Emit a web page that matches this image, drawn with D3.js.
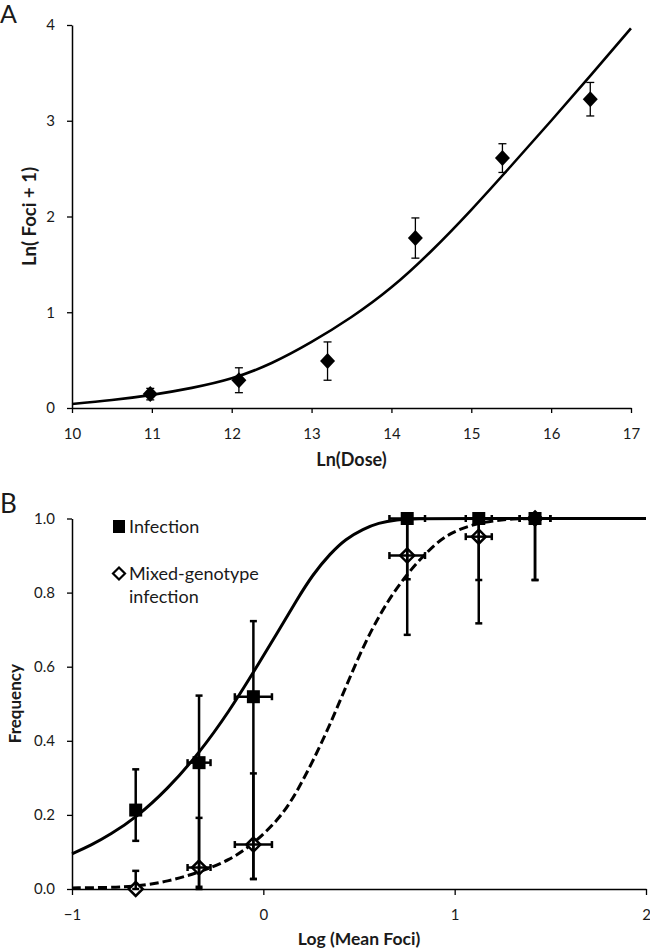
<!DOCTYPE html>
<html>
<head>
<meta charset="utf-8">
<script src="https://cdn.jsdelivr.net/npm/d3@7"></script>
<style>
  html, body { margin: 0; padding: 0; background: #fff; }
  svg { display: block; font-family: Lato, "Open Sans", sans-serif; }
</style>
</head>
<body>
<svg id="chart" width="650" height="952"></svg>
<script>
// ---------- Panel A data ----------
const aDose = [10.98, 12.09, 13.2, 14.3, 15.39, 16.49];
const aFoci = [0.145, 0.29, 0.49, 1.775, 2.61, 3.225];
const aErr = [0.06, 0.13, 0.2, 0.21, 0.15, 0.175];
// fitted curve
const aCurveX = [10, 10.5, 11, 11.5, 12, 12.5, 13, 13.5, 14, 14.5, 15, 15.5, 16, 16.5, 17];
const aCurveY = [0.042, 0.083, 0.137, 0.21, 0.31, 0.47, 0.69, 0.95, 1.26, 1.64, 2.07, 2.53, 3.00, 3.48, 3.965];
const aXTicks = [10, 11, 12, 13, 14, 15, 16, 17];
const aYTicks = [0, 1, 2, 3, 4];

// ---------- Panel B data ----------
const bLogFoci = [-0.667, -0.336, -0.052, 0.752, 1.126, 1.42];
const bXErr = [0, 0.06, 0.097, 0.093, 0.068, 0.08];
const infFreq = [0.213, 0.341, 0.519, 1.0, 1.0, 1.0];
const infLow = [0.13, 0.006, 0.027, 0.836, 0.834, 0.834];
const infHigh = [0.323, 0.522, 0.723, 1.0, 1.0, 1.0];
const mixFreq = [0.0, 0.058, 0.12, 0.90, 0.951, 1.0];
const mixLow = [0.0, 0.0, 0.027, 0.686, 0.717, 0.834];
const mixHigh = [0.049, 0.192, 0.312, 1.0, 1.0, 1.0];
// fitted curves
const infCurveX = [-1, -0.9, -0.8, -0.667, -0.5, -0.336, -0.174, -0.052, 0.078, 0.174, 0.26, 0.349, 0.43, 0.523, 0.6, 0.697, 0.8, 1.0, 2];
const infCurveY = [0.095, 0.118, 0.147, 0.192, 0.27, 0.366, 0.483, 0.585, 0.695, 0.78, 0.85, 0.905, 0.945, 0.972, 0.988, 0.997, 1.0, 1.0, 1.0];
const mixCurveX = [-1, -0.8, -0.665, -0.5, -0.335, -0.174, -0.052, 0.078, 0.175, 0.349, 0.523, 0.697, 0.871, 0.975, 1.128, 1.3, 1.5, 2];
const mixCurveY = [0.003, 0.004, 0.007, 0.02, 0.045, 0.078, 0.122, 0.186, 0.258, 0.438, 0.665, 0.82, 0.92, 0.962, 0.99, 1.0, 1.0, 1.0];
const bXTicks = [-1, 0, 1, 2];
const bYTicks = [0, 0.2, 0.4, 0.6, 0.8, 1.0];

const svg = d3.select("#chart");

function styleAxis(g, isX) {
  g.selectAll("path.domain").attr("stroke", "#000").attr("stroke-width", 1.5);
  g.selectAll(".tick line").attr("stroke", "#000").attr("stroke-width", 1.3);
  g.selectAll(".tick text").attr("font-size", 15).attr("fill", "#1a1a1a")
    .attr("font-family", "Lato, 'Open Sans', sans-serif");
  if (isX) g.selectAll(".tick text").attr("y", 31).attr("dy", 0);
}

// ================= Panel A =================
const ax = d3.scaleLinear().domain([10, 17]).range([72, 631]);
const ay = d3.scaleLinear().domain([0, 4]).range([408, 25]);

const gA = svg.append("g");
gA.append("g").attr("transform", "translate(0,408)")
  .call(d3.axisBottom(ax).tickValues(aXTicks).tickSize(5).tickSizeOuter(0).tickFormat(d3.format("d")))
  .call(g => styleAxis(g, true));
gA.append("g").attr("transform", "translate(72,0)")
  .call(d3.axisLeft(ay).tickValues(aYTicks).tickSize(5).tickSizeOuter(0).tickPadding(12).tickFormat(d3.format("d")))
  .call(g => styleAxis(g, false));

const aCurve = aCurveX.map((x, i) => [x, aCurveY[i]]);
gA.append("path").datum(aCurve)
  .attr("fill", "none").attr("stroke", "#000").attr("stroke-width", 2.6)
  .attr("d", d3.line().x(d => ax(d[0])).y(d => ay(d[1])).curve(d3.curveNatural));

const aPts = aDose.map((x, i) => ({ x, y: aFoci[i], e: aErr[i] }));
const aErrG = gA.append("g").attr("stroke", "#000").attr("stroke-width", 1.3);
aPts.forEach(p => {
  const cx = ax(p.x), yt = ay(p.y + p.e), yb = ay(p.y - p.e);
  aErrG.append("line").attr("x1", cx).attr("x2", cx).attr("y1", yt).attr("y2", yb);
  aErrG.append("line").attr("x1", cx - 4).attr("x2", cx + 4).attr("y1", yt).attr("y2", yt);
  aErrG.append("line").attr("x1", cx - 4).attr("x2", cx + 4).attr("y1", yb).attr("y2", yb);
});
gA.selectAll("path.dia").data(aPts).enter().append("path")
  .attr("class", "dia")
  .attr("d", d => {
    const cx = ax(d.x), cy = ay(d.y);
    return `M${cx},${cy - 8}L${cx + 7.5},${cy}L${cx},${cy + 8}L${cx - 7.5},${cy}Z`;
  })
  .attr("fill", "#000");

gA.append("text").attr("x", 351.5).attr("y", 466).attr("text-anchor", "middle")
  .attr("font-size", 18).attr("font-weight", "bold").attr("fill", "#1a1a1a").text("Ln(Dose)");
gA.append("text").attr("transform", "translate(36,216.5) rotate(-90)").attr("text-anchor", "middle")
  .attr("font-size", 18.5).attr("font-weight", "bold").attr("fill", "#1a1a1a").text("Ln( Foci + 1)");
gA.append("text").attr("x", 0).attr("y", 23).attr("font-size", 25).attr("fill", "#1a1a1a").text("A");

// ================= Panel B =================
const bx = d3.scaleLinear().domain([-1, 2]).range([72, 646]);
const by = d3.scaleLinear().domain([0, 1]).range([889, 518.5]);

const gB = svg.append("g");
gB.append("g").attr("transform", "translate(0,889)")
  .call(d3.axisBottom(bx).tickValues(bXTicks).tickSize(6).tickSizeOuter(0).tickFormat(d3.format("d")))
  .call(g => styleAxis(g, true));
gB.append("g").attr("transform", "translate(72,0)")
  .call(d3.axisLeft(by).tickValues(bYTicks).tickSize(5).tickSizeOuter(0).tickPadding(12).tickFormat(d3.format(".1f")))
  .call(g => styleAxis(g, false));

const bLine = d3.line().x(d => bx(d[0])).y(d => by(d[1])).curve(d3.curveBasis);
gB.append("path").datum(mixCurveX.map((x, i) => [x, mixCurveY[i]]))
  .attr("fill", "none").attr("stroke", "#000").attr("stroke-width", 3)
  .attr("stroke-dasharray", "9,4").attr("d", bLine);
gB.append("path").datum(infCurveX.map((x, i) => [x, infCurveY[i]]))
  .attr("fill", "none").attr("stroke", "#000").attr("stroke-width", 3).attr("d", bLine);

const infPts = bLogFoci.map((x, i) => ({ x, y: infFreq[i], lo: infLow[i], hi: infHigh[i], xe: bXErr[i] }));
const mixPts = bLogFoci.map((x, i) => ({ x, y: mixFreq[i], lo: mixLow[i], hi: mixHigh[i], xe: bXErr[i] }));

// open diamonds (drawn under the error bars, so the cross shows through)
function diamondPath(cx, cy, r) {
  return `M${cx},${cy - r}L${cx + r},${cy}L${cx},${cy + r}L${cx - r},${cy}Z`;
}
gB.selectAll("path.mix").data(mixPts).enter().append("path")
  .attr("class", "mix")
  .attr("d", d => diamondPath(bx(d.x), by(d.y), 7))
  .attr("fill", "#fff").attr("stroke", "#000").attr("stroke-width", 2.5);

const bErrG = gB.append("g").attr("stroke", "#000").attr("stroke-width", 2.5);
function drawErr(p) {
  const cx = bx(p.x), cy = by(p.y), yt = by(p.hi), yb = by(p.lo);
  if (p.hi > p.lo) {
    bErrG.append("line").attr("x1", cx).attr("x2", cx).attr("y1", yt).attr("y2", yb);
    bErrG.append("line").attr("x1", cx - 3.5).attr("x2", cx + 3.5).attr("y1", yt).attr("y2", yt);
    bErrG.append("line").attr("x1", cx - 3.5).attr("x2", cx + 3.5).attr("y1", yb).attr("y2", yb);
  }
  if (p.xe > 0) {
    const xl = bx(p.x - p.xe), xr = bx(p.x + p.xe);
    bErrG.append("line").attr("x1", xl).attr("x2", xr).attr("y1", cy).attr("y2", cy);
    bErrG.append("line").attr("x1", xl).attr("x2", xl).attr("y1", cy - 3.5).attr("y2", cy + 3.5);
    bErrG.append("line").attr("x1", xr).attr("x2", xr).attr("y1", cy - 3.5).attr("y2", cy + 3.5);
  }
}
infPts.forEach(drawErr);
mixPts.forEach(drawErr);

gB.selectAll("rect.inf").data(infPts).enter().append("rect")
  .attr("class", "inf")
  .attr("x", d => bx(d.x) - 6.5).attr("y", d => by(d.y) - 6.5)
  .attr("width", 13).attr("height", 13).attr("fill", "#000");

// legend
gB.append("rect").attr("x", 113).attr("y", 520).attr("width", 12).attr("height", 13).attr("fill", "#000");
gB.append("text").attr("x", 129).attr("y", 533).attr("font-size", 18).attr("fill", "#1a1a1a").text("Infection");
gB.append("path").attr("d", diamondPath(119, 573.5, 6)).attr("fill", "#fff").attr("stroke", "#000").attr("stroke-width", 2.2);
gB.append("text").attr("x", 129).attr("y", 580).attr("font-size", 18).attr("fill", "#1a1a1a").text("Mixed-genotype");
gB.append("text").attr("x", 129).attr("y", 603).attr("font-size", 18).attr("fill", "#1a1a1a").text("infection");

gB.append("text").attr("x", 359).attr("y", 945).attr("text-anchor", "middle")
  .attr("font-size", 17.5).attr("font-weight", "bold").attr("fill", "#1a1a1a").text("Log (Mean Foci)");
gB.append("text").attr("transform", "translate(21,703.7) rotate(-90)").attr("text-anchor", "middle")
  .attr("font-size", 17).attr("font-weight", "bold").attr("fill", "#1a1a1a").text("Frequency");
gB.append("text").attr("x", 0).attr("y", 513).attr("font-size", 26).attr("fill", "#1a1a1a").text("B");
</script>
</body>
</html>
